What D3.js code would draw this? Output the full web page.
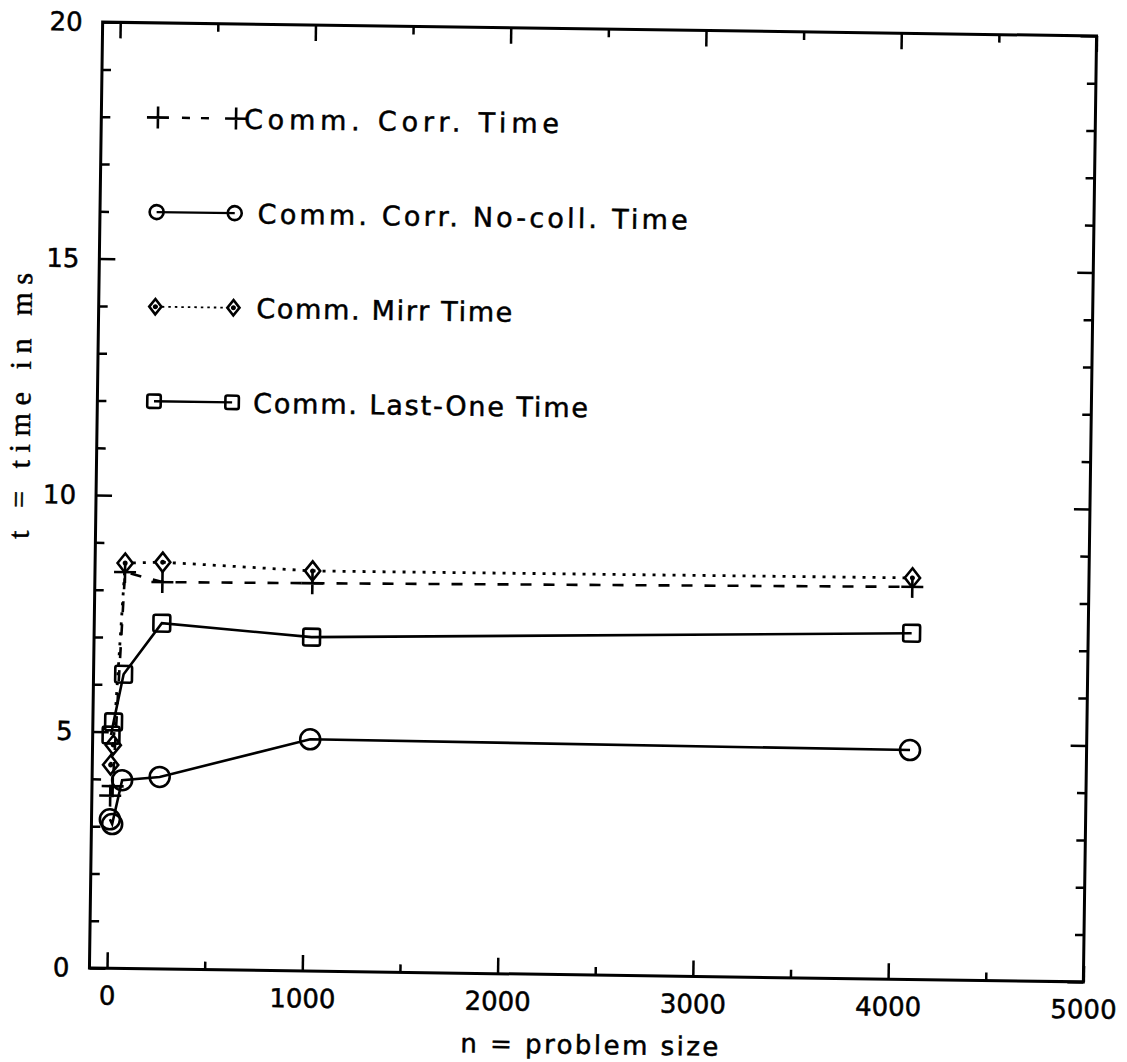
<!DOCTYPE html>
<html>
<head>
<meta charset="utf-8">
<script src="https://cdn.jsdelivr.net/npm/d3@7.9.0/dist/d3.min.js"></script>
<style>
  body { margin: 0; background: #fff; }
  svg { display: block; }
  text { fill: #000; stroke: #000; stroke-width: 0.5px; }
</style>
</head>
<body>
<script>
// problem sizes (powers of 4) and measured times in ms
const sizes = [4, 16, 64, 256, 1024, 4096];
const corrTime = [3.65, 3.85, 8.38, 8.18, 8.2, 8.3];
const noCollTime = [3.15, 3.05, 3.98, 4.06, 4.9, 4.85];
const mirrTime = [4.3, 4.72, 8.57, 8.6, 8.46, 8.49];
const lastOneTime = [4.93, 5.21, 6.22, 7.31, 7.06, 7.32];

const xMajor = [0, 1000, 2000, 3000, 4000, 5000];
const xMinor = [500, 1500, 2500, 3500, 4500];
const yMajor = [0, 5, 10, 15, 20];
const yMinor = d3.range(1, 20).filter(v => v % 5 !== 0);

const seriesNames = ['Comm. Corr. Time', 'Comm. Corr. No-coll. Time', 'Comm. Mirr Time', 'Comm. Last-One Time'];
const legendY = [18, 16, 14, 12];
const legendX = [200, 600];

const width = 1127, height = 1062;
const plotL = 96, plotR = 1090, plotT = 29, plotB = 975;

const svg = d3.select('body').append('svg')
    .attr('width', width)
    .attr('height', height);

// the scanned page is tilted a little clockwise
const g = svg.append('g').attr('transform', 'rotate(0.8,593,502)');

const x = d3.scaleLinear().domain([-90, 5000]).range([plotL, plotR]);
const y = d3.scaleLinear().domain([0, 20]).range([plotB, plotT]);

// axes, ticks point inward
function axis(gen, scale, values, size, pos, labels) {
    const a = g.append('g')
        .attr('transform', pos)
        .call(gen(scale).tickValues(values).tickSize(-size).tickPadding(labels ? 18 : 0)
            .tickFormat(labels ? d3.format('d') : ''));
    a.select('.domain').remove();
    a.selectAll('line').attr('stroke', '#000').attr('stroke-width', 2.5);
    a.selectAll('text')
        .attr('font-family', 'DejaVu Sans')
        .attr('font-size', 26);
    return a;
}
axis(d3.axisBottom, x, xMajor, 16, `translate(0,${plotB})`, true);
axis(d3.axisBottom, x, xMinor, 8, `translate(0,${plotB})`, false);
axis(d3.axisTop, x, xMajor, 16, `translate(0,${plotT})`, false);
axis(d3.axisTop, x, xMinor, 8, `translate(0,${plotT})`, false);
axis(d3.axisLeft, y, yMajor, 16, `translate(${plotL},0)`, true).selectAll('text').attr('dx', -2);
axis(d3.axisLeft, y, yMinor, 9, `translate(${plotL},0)`, false);
axis(d3.axisRight, y, yMajor, 16, `translate(${plotR},0)`, false);
axis(d3.axisRight, y, yMinor, 9, `translate(${plotR},0)`, false);

g.append('rect')
    .attr('x', plotL).attr('y', plotT)
    .attr('width', plotR - plotL).attr('height', plotB - plotT)
    .attr('fill', 'none').attr('stroke', '#000').attr('stroke-width', 3);

// axis titles
g.append('text')
    .attr('x', (plotL + plotR) / 2 + 4)
    .attr('y', 1054)
    .attr('text-anchor', 'middle')
    .attr('font-family', 'DejaVu Sans')
    .attr('font-size', 26)
    .attr('textLength', 258)
    .attr('lengthAdjust', 'spacing')
    .text('n = problem size');

g.append('text')
    .attr('transform', 'translate(29,414) rotate(-90)')
    .attr('text-anchor', 'middle')
    .attr('font-family', 'Liberation Serif')
    .attr('font-size', 30)
    .attr('textLength', 266)
    .attr('lengthAdjust', 'spacing')
    .text('t = time in ms');

// markers
function marker(sel, type, s) {
    if (type === 'circle') {
        sel.append('circle').attr('r', s * 0.5);
    } else if (type === 'square') {
        sel.append('rect').attr('x', -s * 0.42).attr('y', -s * 0.42)
            .attr('width', s * 0.84).attr('height', s * 0.84).attr('rx', 2);
    } else if (type === 'diamond') {
        const w = s * 0.38, h = s * 0.48;
        sel.append('path').attr('d', `M0,${-h}L${w},0L0,${h}L${-w},0Z`);
        sel.append('circle').attr('r', 1.2).attr('fill', '#000');
    } else {
        const h = s * 0.55;
        sel.append('path').attr('d', `M${-h},0H${h}M0,${-h}V${h}`);
    }
}

const series = [
    { name: seriesNames[0], values: corrTime, type: 'plus', dash: '11,12', legendDash: '8,11', legendSize: 20 },
    { name: seriesNames[1], values: noCollTime, type: 'circle', dash: null, legendDash: null, legendSize: 14 },
    { name: seriesNames[2], values: mirrTime, type: 'diamond', dash: '3,7', legendDash: '2.5,4', legendSize: 16 },
    { name: seriesNames[3], values: lastOneTime, type: 'square', dash: null, legendDash: null, legendSize: 16 }
];

const line = d3.line().x(d => x(d[0])).y(d => y(d[1]));

series.forEach((s, i) => {
    const pts = sizes.map((n, j) => [n, s.values[j]]);
    g.append('path')
        .attr('d', line(pts))
        .attr('fill', 'none')
        .attr('stroke', '#000')
        .attr('stroke-width', s.type === 'diamond' ? 2.8 : 2.6)
        .attr('stroke-dasharray', s.dash);
    pts.forEach(p => {
        const m = g.append('g')
            .attr('transform', `translate(${x(p[0])},${y(p[1])})`)
            .attr('fill', 'none').attr('stroke', '#000').attr('stroke-width', 2.6);
        marker(m, s.type, 20);
    });

    // legend row
    const ly = y(legendY[i]);
    const x1 = x(legendX[0]), x2 = x(legendX[1]);
    const lx1 = s.type === 'plus' ? x1 + 24 : x1;
    const lx2 = s.type === 'plus' ? x2 - 22 : x2;
    g.append('line')
        .attr('x1', lx1).attr('x2', lx2).attr('y1', ly).attr('y2', ly)
        .attr('stroke', '#000')
        .attr('stroke-width', s.type === 'diamond' ? 1.8 : 2.4)
        .attr('stroke-dasharray', s.legendDash);
    [x1, x2].forEach(px => {
        const m = g.append('g')
            .attr('transform', `translate(${px},${ly})`)
            .attr('fill', 'none').attr('stroke', '#000').attr('stroke-width', 2.6);
        marker(m, s.type, s.legendSize);
    });
});

const textLen = [315, 430, 256, 335];
const textGap = [8, 23, 23, 21];
series.forEach((s, i) => {
    g.append('text')
        .attr('x', x(legendX[1]) + textGap[i])
        .attr('y', y(legendY[i]) + 10)
        .attr('font-family', 'DejaVu Sans')
        .attr('font-size', 27)
        .attr('textLength', textLen[i])
        .attr('lengthAdjust', 'spacing')
        .text(s.name);
});
</script>
</body>
</html>
